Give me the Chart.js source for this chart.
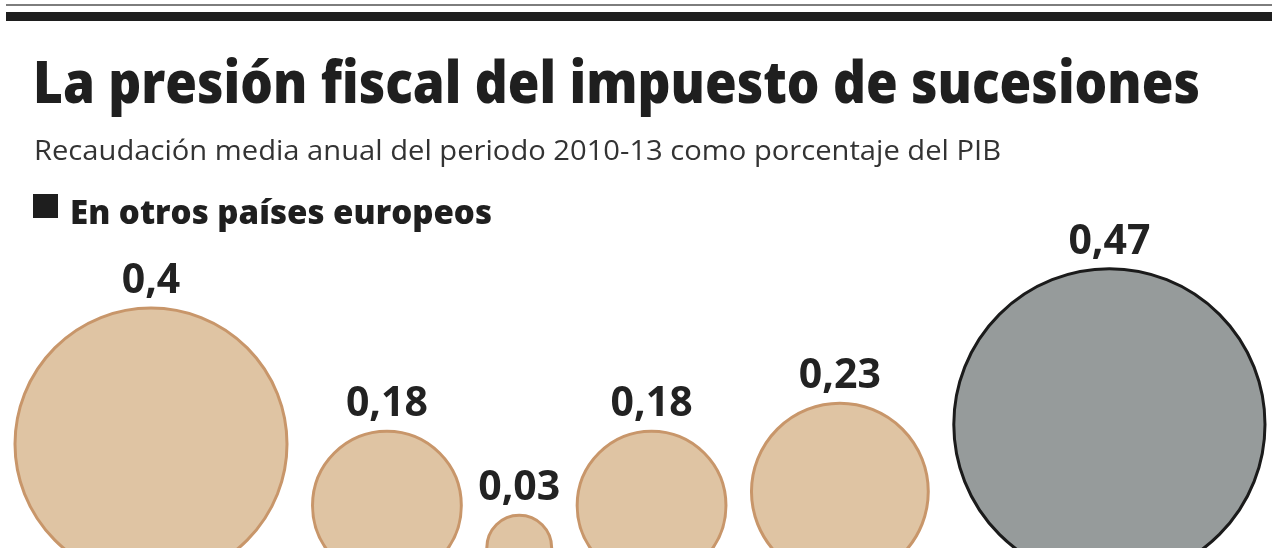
<!DOCTYPE html>
<html><head><meta charset="utf-8">
<script src="https://cdn.jsdelivr.net/npm/chart.js@4.4.1/dist/chart.umd.min.js"></script>
<style>
html,body{margin:0;padding:0;background:#fff;}
#wrap{position:relative;width:1280px;height:548px;overflow:hidden;background:#fff;}
#c{position:absolute;left:0;top:0;}
.abs{position:absolute;white-space:nowrap;line-height:1;transform-origin:0 0;}
</style></head>
<body>
<div id="wrap">
<canvas id="c" width="1280" height="548"></canvas>
<div class="abs" style="left:6px;top:4px;width:1266px;height:2px;background:#7d7d7d"></div>
<div class="abs" style="left:6px;top:12px;width:1266px;height:9px;background:#1e1e1e"></div>
<div class="abs fit" data-w="1167" style="left:33px;top:40px;font:800 59px 'Open Sans';color:#1f1f1f">La presión fiscal del impuesto de sucesiones</div>
<div class="abs fit" data-w="967" style="left:34px;top:130px;font:400 28px 'Open Sans';color:#333">Recaudación media anual del periodo 2010-13 como porcentaje del PIB</div>
<div class="abs" style="left:33px;top:194px;width:25px;height:24px;background:#1e1e1e"></div>
<div class="abs fit" data-w="422" style="left:70px;top:189px;font:800 33px 'Open Sans';color:#1f1f1f">En otros países europeos</div>
</div>
<script>
// ---- data ----
const values = [0.4, 0.18, 0.03, 0.18, 0.23, 0.47];
const valueLabels = values.map(v => String(v).replace('.', ','));
const seriesName = 'Recaudación media anual (% del PIB)';

// ---- size scale and packing layout ----
const sizeScale = v => 24 + 280 * v;     // value -> bubble radius (px)
const LEFT = 15, RIGHT = 1265, BASE = 580;
const radii = values.map(sizeScale);
const sumD = radii.reduce((a, r) => a + 2 * r, 0);
const gap = (RIGHT - LEFT - sumD) / (values.length - 1);
let cursor = LEFT;
const points = values.map((v, i) => {
  const r = radii[i];
  const p = { x: cursor + r, y: BASE - r, r: r };
  cursor += 2 * r + gap;
  return p;
});
const last = values.length - 1;

const labelPlugin = {
  id: 'valueLabels',
  afterDatasetsDraw(chart) {
    const ctx = chart.ctx;
    const meta = chart.getDatasetMeta(0);
    ctx.save();
    ctx.font = '700 41px "Open Sans"';
    ctx.fillStyle = '#222';
    ctx.textAlign = 'center';
    ctx.textBaseline = 'alphabetic';
    meta.data.forEach((el, i) => {
      ctx.fillText(valueLabels[i], el.x, el.y - el.options.radius - 15);
    });
    ctx.restore();
  }
};

new Chart(document.getElementById('c'), {
  type: 'bubble',
  data: {
    datasets: [{
      label: seriesName,
      data: points,
      backgroundColor: ctx => ctx.dataIndex === last ? '#969b9b' : '#dfc4a3',
      borderColor: ctx => ctx.dataIndex === last ? '#1b1b1b' : '#c8966a',
      borderWidth: 3,
      clip: false
    }]
  },
  options: {
    responsive: false,
    animation: false,
    layout: { padding: 0, autoPadding: false },
    scales: {
      x: { type: 'linear', min: 0, max: 1280, display: false },
      y: { type: 'linear', min: 0, max: 548, reverse: true, display: false }
    },
    plugins: { legend: { display: false }, tooltip: { enabled: false } }
  },
  plugins: [labelPlugin]
});

function fit() {
  document.querySelectorAll('.fit').forEach(el => {
    el.style.transform = 'none';
    const w = el.getBoundingClientRect().width;
    el.style.transform = 'scaleX(' + (parseFloat(el.dataset.w) / w) + ')';
  });
}
fit();
if (document.fonts && document.fonts.ready) document.fonts.ready.then(fit);
</script>
</body></html>
